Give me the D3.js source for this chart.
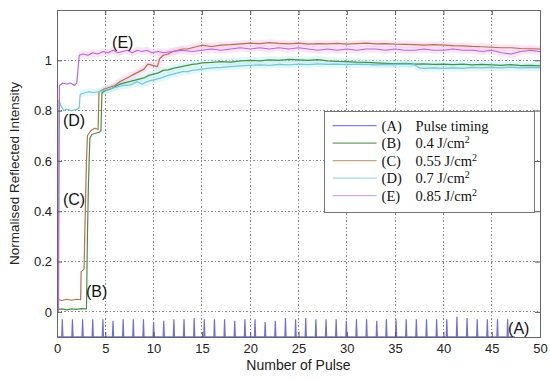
<!DOCTYPE html>
<html>
<head>
<meta charset="utf-8">
<script src="https://cdn.jsdelivr.net/npm/d3@7"></script>
<style>
    body { margin: 0; background: #fff; }
    #wrapper svg { display: block; }
    .tick text { font-family: "Liberation Sans", Arial, sans-serif; font-size: 13px; fill: #222; }
    .tick line { stroke: #555; }
    .axis-label { font-family: "Liberation Sans", Arial, sans-serif; fill: #222; }
    .curve-label { font-family: "Liberation Sans", Arial, sans-serif; font-size: 16px; fill: #111; }
    .legend-text { font-family: "Liberation Serif", "Times New Roman", serif; font-size: 14.5px; fill: #111; }
</style>
</head>
<body>
<div id="wrapper"></div>
<script>
// tick labels
const xTicks = [0, 5, 10, 15, 20, 25, 30, 35, 40, 45, 50]
const yTicks = [0, 0.2, 0.4, 0.6, 0.8, 1]

// (A) pulse timing: spike positions and spike tops
const pulseX = [0.55, 1.6, 2.65, 3.7, 4.75, 5.8, 6.85, 7.9, 8.95, 10.0, 11.05, 12.1, 13.15, 14.2, 15.25,
    16.3, 17.35, 18.4, 19.45, 20.5, 21.55, 22.6, 23.65, 24.7, 25.75, 26.8, 27.85, 28.9, 29.95, 31.0,
    32.05, 33.1, 34.1, 35.1, 36.15, 37.2, 38.25, 39.3, 40.35, 41.4, 42.45, 43.5, 44.55, 45.6, 46.65]
const pulseTop = [-0.03, -0.03, -0.03, -0.03, -0.03, -0.035, -0.03, -0.03, -0.03, -0.04, -0.035, -0.03, -0.03, -0.025, -0.03,
    -0.03, -0.03, -0.035, -0.03, -0.03, -0.04, -0.035, -0.025, -0.03, -0.025, -0.03, -0.03, -0.03, -0.035, -0.03,
    -0.03, -0.035, -0.03, -0.03, -0.03, -0.03, -0.03, -0.03, -0.03, -0.02, -0.025, -0.03, -0.03, -0.03, -0.03]
const pulseBase = -0.099
const pulseEnd = 47.4

// (B) 0.4 J/cm2
const seriesB = [[0, 0.01], [0.5, 0.012], [1, 0.008], [1.5, 0.012], [2, 0.01], [2.5, 0.013], [3.05, 0.012], [3.15, 0.3],
    [3.25, 0.5], [3.4, 0.69], [3.6, 0.705], [4, 0.71], [4.4, 0.715], [4.55, 0.72], [4.65, 0.87], [5, 0.88], [5.5, 0.885],
    [6, 0.895], [6.5, 0.905], [7, 0.91], [7.5, 0.915], [8, 0.92], [8.5, 0.925], [9, 0.93], [9.5, 0.94], [10, 0.945],
    [10.5, 0.95], [11, 0.96], [11.5, 0.962], [12, 0.968], [12.5, 0.972], [13, 0.976], [13.5, 0.98], [14, 0.984],
    [14.5, 0.986], [15, 0.99], [16, 0.992], [17, 0.995], [18, 0.993], [19, 0.998], [20, 1.0], [21, 0.998], [22, 1.002],
    [23, 1.0], [24, 1.004], [25, 1.002], [26, 1.0], [27, 1.003], [28, 0.998], [29, 0.996], [30, 0.995], [31, 0.993],
    [32, 0.992], [33, 0.99], [34, 0.988], [35, 0.986], [36, 0.988], [37, 0.985], [38, 0.986], [39, 0.984], [40, 0.985],
    [41, 0.983], [42, 0.985], [43, 0.982], [44, 0.984], [45, 0.982], [46, 0.98], [47, 0.983], [48, 0.979], [49, 0.98], [50, 0.978]]

// (C) 0.55 J/cm2
const seriesC = [[0, 0.05], [0.5, 0.045], [1, 0.05], [1.5, 0.046], [2, 0.05], [2.45, 0.048], [2.5, 0.16], [2.8, 0.17],
    [2.9, 0.35], [3.05, 0.6], [3.15, 0.7], [3.5, 0.72], [3.9, 0.73], [4.25, 0.725], [4.35, 0.875], [4.8, 0.885],
    [5.2, 0.89], [5.6, 0.895], [6, 0.9], [6.5, 0.915], [7, 0.925], [7.5, 0.935], [8, 0.945], [8.5, 0.955], [9, 0.965],
    [9.4, 0.985], [9.9, 0.98], [10.4, 0.975], [10.6, 1.005], [11, 1.02], [11.5, 1.025], [12, 1.035], [12.5, 1.04],
    [13, 1.045], [13.5, 1.045], [14, 1.05], [14.5, 1.055], [15, 1.06], [16, 1.055], [17, 1.06], [18, 1.062], [19, 1.065],
    [20, 1.068], [21, 1.066], [22, 1.07], [23, 1.067], [24, 1.065], [25, 1.068], [26, 1.064], [27, 1.066], [28, 1.065],
    [29, 1.067], [30, 1.064], [31, 1.066], [32, 1.068], [33, 1.065], [34, 1.066], [35, 1.064], [36, 1.063], [37, 1.062],
    [38, 1.06], [39, 1.062], [40, 1.06], [41, 1.058], [42, 1.057], [43, 1.055], [44, 1.054], [45, 1.052], [46, 1.05],
    [47, 1.05], [48, 1.047], [49, 1.046], [50, 1.045]]

// (D) 0.7 J/cm2
const seriesD = [[0, 0.0], [0.12, 0.0], [0.2, 0.84], [0.4, 0.82], [0.7, 0.8], [1, 0.805], [1.5, 0.8], [2, 0.805],
    [2.3, 0.81], [2.4, 0.865], [2.8, 0.87], [3.3, 0.875], [3.8, 0.872], [4.3, 0.875], [4.8, 0.88], [5.3, 0.885],
    [5.8, 0.89], [6.3, 0.895], [6.8, 0.9], [7.3, 0.9], [7.8, 0.905], [8.3, 0.915], [8.8, 0.905], [9.3, 0.915],
    [9.8, 0.92], [10.3, 0.925], [10.8, 0.93], [11.5, 0.94], [12, 0.945], [12.5, 0.95], [13, 0.955], [13.5, 0.955],
    [14, 0.96], [14.5, 0.962], [15, 0.965], [16, 0.97], [17, 0.972], [18, 0.975], [19, 0.978], [20, 0.98], [21, 0.982],
    [22, 0.98], [23, 0.984], [24, 0.982], [25, 0.985], [26, 0.983], [27, 0.986], [28, 0.984], [29, 0.985], [30, 0.983],
    [31, 0.985], [32, 0.984], [33, 0.982], [34, 0.984], [35, 0.983], [36, 0.985], [37, 0.982], [37.5, 0.97], [38, 0.968],
    [39, 0.97], [40, 0.968], [41, 0.97], [42, 0.968], [43, 0.972], [44, 0.97], [45, 0.972], [46, 0.97], [47, 0.973],
    [48, 0.97], [49, 0.972], [50, 0.971]]

// (E) 0.85 J/cm2
const seriesE = [[0, 0.0], [0.15, 0.0], [0.25, 0.9], [0.6, 0.91], [1, 0.905], [1.4, 0.91], [1.8, 0.9], [2.05, 0.91],
    [2.3, 1.02], [2.7, 1.025], [3.2, 1.02], [3.7, 1.03], [4.2, 1.025], [4.8, 1.035], [5.3, 1.03], [5.8, 1.04], [6.3, 1.03],
    [6.8, 1.035], [7.3, 1.04], [7.8, 1.03], [8.3, 1.04], [8.8, 1.035], [9.3, 1.04], [9.8, 1.03], [10.5, 1.035], [11, 1.03],
    [12, 1.035], [13, 1.04], [14, 1.035], [15, 1.04], [16, 1.045], [17, 1.04], [18, 1.045], [19, 1.05], [20, 1.045],
    [21, 1.05], [22, 1.045], [23, 1.05], [24, 1.045], [25, 1.05], [26, 1.045], [27, 1.04], [28, 1.045], [29, 1.04],
    [30, 1.045], [31, 1.04], [32, 1.045], [33, 1.045], [34, 1.04], [35, 1.045], [36, 1.04], [37, 1.04], [38, 1.045],
    [39, 1.04], [40, 1.04], [41, 1.045], [42, 1.04], [43, 1.04], [44, 1.035], [45, 1.04], [46, 1.03], [47, 1.025],
    [48, 1.035], [49, 1.04], [50, 1.035]]

// legend and curve annotations
const legendKeys = ['(A)', '(B)', '(C)', '(D)', '(E)']
const legendNames = ['Pulse timing', '0.4 J/cm²', '0.55 J/cm²', '0.7 J/cm²', '0.85 J/cm²']
const annoText = ['(A)', '(B)', '(C)', '(D)', '(E)']
const annoX = [46.7, 3.0, 0.62, 0.62, 5.7]
const annoY = [-0.088, 0.059, 0.425, 0.739, 1.049]

function drawChart() {
    let dimensions = {
        width: 550,
        height: 381,
        margin: { top: 10, right: 10, bottom: 44, left: 57 }
    }
    dimensions.boundedWidth = dimensions.width - dimensions.margin.left - dimensions.margin.right
    dimensions.boundedHeight = dimensions.height - dimensions.margin.top - dimensions.margin.bottom

    const wrapper = d3.select('#wrapper')
        .append('svg')
        .attr('width', dimensions.width)
        .attr('height', dimensions.height)

    const bounds = wrapper.append('g')
        .attr('transform', `translate(${dimensions.margin.left}, ${dimensions.margin.top})`)

    const xScale = d3.scaleLinear().domain([0, 50]).range([0, dimensions.boundedWidth])
    const yScale = d3.scaleLinear().domain([-0.1, 1.2]).range([dimensions.boundedHeight, 0])

    // dotted grid
    const grid = bounds.append('g').attr('class', 'grid')
    grid.selectAll('.vgrid')
        .data(xTicks.filter(d => d > 0 && d < 50))
        .join('line')
        .attr('x1', d => xScale(d)).attr('x2', d => xScale(d))
        .attr('y1', 0).attr('y2', dimensions.boundedHeight)
    grid.selectAll('.hgrid')
        .data(yTicks)
        .join('line')
        .attr('x1', 0).attr('x2', dimensions.boundedWidth)
        .attr('y1', d => yScale(d)).attr('y2', d => yScale(d))
    grid.selectAll('line')
        .attr('stroke', '#8a8a8a')
        .attr('stroke-width', 1)
        .attr('stroke-dasharray', '1.5,2')
        .attr('shape-rendering', 'crispEdges')

    const lineGenerator = d3.line()
        .x(d => xScale(d[0]))
        .y(d => yScale(d[1]))

    // pulse timing trace built from the spike arrays
    let pulsePoints = [[0, pulseBase]]
    pulseX.forEach((px, i) => {
        pulsePoints.push([px - 0.06, pulseBase], [px, pulseTop[i]], [px + 0.06, pulseBase])
    })
    pulsePoints.push([pulseEnd, pulseBase])

    const curves = [
        { key: 'B', data: seriesB, color: '#4a8f4a', halo: '#b8f0ee', from: 4.6 },
        { key: 'C', data: seriesC, color: '#b3714e', halo: '#f6c6ec', from: 4.4 },
        { key: 'D', data: seriesD, color: '#7cc4d6', halo: '#b8f0f2', from: 2.4 },
        { key: 'E', data: seriesE, color: '#b768d2', halo: '#f6c6ec', from: 2.3 }
    ]

    // soft halos behind the noisy traces
    bounds.selectAll('.halo')
        .data(curves)
        .join('path')
        .attr('class', 'halo')
        .attr('d', d => lineGenerator(d.data.filter(p => p[0] >= d.from)))
        .attr('fill', 'none')
        .attr('stroke', d => d.halo)
        .attr('stroke-width', 7)
        .attr('stroke-opacity', 0.45)
        .attr('stroke-linejoin', 'round')

    bounds.append('path')
        .attr('d', lineGenerator(pulsePoints))
        .attr('fill', 'none')
        .attr('stroke', '#6f6fdb')
        .attr('stroke-width', 1.2)

    bounds.selectAll('.curve')
        .data(curves)
        .join('path')
        .attr('class', 'curve')
        .attr('d', d => lineGenerator(d.data))
        .attr('fill', 'none')
        .attr('stroke', d => d.color)
        .attr('stroke-width', 1.2)
        .attr('stroke-linejoin', 'round')

    // axes with inward ticks
    const xAxis = d3.axisBottom(xScale).tickValues(xTicks).tickSizeInner(-5).tickSizeOuter(0).tickPadding(7)
    const yAxis = d3.axisLeft(yScale).tickValues(yTicks).tickFormat(d3.format('')).tickSizeInner(-5).tickSizeOuter(0).tickPadding(5)
    const xAxisTop = d3.axisTop(xScale).tickValues(xTicks).tickFormat('').tickSizeInner(-5).tickSizeOuter(0)
    const yAxisRight = d3.axisRight(yScale).tickValues(yTicks).tickFormat('').tickSizeInner(-5).tickSizeOuter(0)

    const xAxisGroup = bounds.append('g')
        .attr('transform', `translate(0, ${dimensions.boundedHeight})`)
        .call(xAxis)
    const yAxisGroup = bounds.append('g').call(yAxis)
    const topGroup = bounds.append('g').call(xAxisTop)
    const rightGroup = bounds.append('g')
        .attr('transform', `translate(${dimensions.boundedWidth}, 0)`)
        .call(yAxisRight)
    bounds.selectAll('.domain').remove()
    xAxisGroup.selectAll('text').style('font-size', '13px')
    yAxisGroup.selectAll('text').style('font-size', '13px')

    bounds.append('rect')
        .attr('width', dimensions.boundedWidth)
        .attr('height', dimensions.boundedHeight)
        .attr('fill', 'none')
        .attr('stroke', '#666')
        .attr('stroke-width', 1)
        .attr('shape-rendering', 'crispEdges')

    // axis titles
    wrapper.append('text')
        .attr('class', 'axis-label')
        .attr('x', dimensions.margin.left + dimensions.boundedWidth / 2)
        .attr('y', 370)
        .attr('text-anchor', 'middle')
        .style('font-size', '14px')
        .text('Number of Pulse')

    wrapper.append('text')
        .attr('class', 'axis-label')
        .attr('transform', `translate(19, ${dimensions.margin.top + dimensions.boundedHeight / 2}) rotate(-90)`)
        .attr('text-anchor', 'middle')
        .style('font-size', '13.5px')
        .text('Normalised Reflected Intensity')

    // curve annotations
    bounds.selectAll('.curve-label')
        .data(annoText)
        .join('text')
        .attr('class', 'curve-label')
        .attr('x', (d, i) => xScale(annoX[i]))
        .attr('y', (d, i) => yScale(annoY[i]))
        .text(d => d)

    // legend
    const legendColors = ['#8080e0', '#6e9e6e', '#c8a484', '#a8d6ea', '#d8a8e8']
    const legend = bounds.append('g')
        .attr('transform', `translate(${xScale(27.6)}, ${yScale(0.8)})`)
    legend.append('rect')
        .attr('x', 0.5).attr('y', 0.5)
        .attr('width', 210).attr('height', 101)
        .attr('fill', '#fff')
        .attr('stroke', '#777')
        .attr('stroke-width', 1)
        .attr('shape-rendering', 'crispEdges')

    const rows = legend.selectAll('.legend-row')
        .data(legendKeys)
        .join('g')
        .attr('class', 'legend-row')
        .attr('transform', (d, i) => `translate(0, ${15 + i * 17.5})`)
    rows.append('line')
        .attr('x1', 9).attr('x2', 53)
        .attr('stroke', (d, i) => legendColors[i])
        .attr('stroke-width', 1.3)
    rows.append('text')
        .attr('class', 'legend-text')
        .attr('x', 58).attr('y', 5)
        .text(d => d)
    const names = rows.append('text')
        .attr('class', 'legend-text')
        .attr('x', 92).attr('y', 5)
    names.append('tspan').text((d, i) => legendNames[i].replace('²', ''))
    names.filter((d, i) => legendNames[i].includes('²'))
        .append('tspan')
        .attr('dy', -5)
        .style('font-size', '10px')
        .text('2')
}

drawChart()
</script>
</body>
</html>
